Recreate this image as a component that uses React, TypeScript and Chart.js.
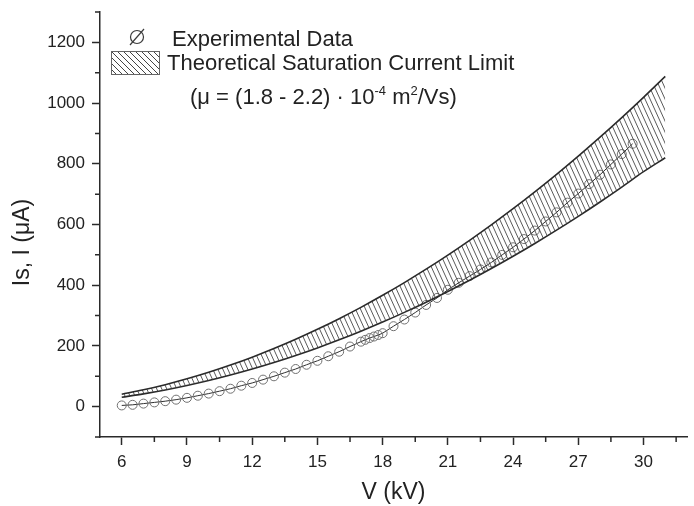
import React, { useEffect, useRef } from "react";
import { Chart, registerables } from "chart.js";

Chart.register(...registerables);

// ---------- data ----------
const expV = [
  6, 6.5, 7, 7.5, 8, 8.5, 9, 9.5, 10, 10.5, 11, 11.5, 12, 12.5, 13, 13.5, 14, 14.5, 15, 15.5, 16, 16.5,
  17, 17.2, 17.4, 17.6, 17.8, 18,
  18.5, 19, 19.5, 20, 20.5, 21, 21.5, 22, 22.5, 23, 23.5, 24, 24.5, 25, 25.5, 26, 26.5, 27, 27.5, 28, 28.5, 29, 29.5,
];
const expI = [
  4, 6, 10, 14, 18, 23, 29, 36, 43, 51, 59, 69, 78, 89, 100, 112, 124, 138, 151, 166, 181, 198,
  214, 220, 226, 231, 236, 242,
  265, 287, 310, 335, 358, 385, 408, 430, 452, 475, 500, 525, 552, 580, 610, 640, 672, 702, 733, 764, 798, 832, 866,
];

const bandV = [6, 7, 8, 9, 10, 11, 12, 13, 14, 15, 16, 17, 18, 19, 20, 21, 22, 23, 24, 25, 26, 27, 28, 29, 30, 31];
const bandUpper = [
  40.8, 55.5, 72.4, 91.7, 113.2, 137.0, 163.0, 191.3, 221.9, 254.7, 289.8, 327.1, 366.8, 408.7, 452.8, 499.2,
  547.9, 598.8, 652.0, 707.5, 765.2, 825.2, 887.5, 952.0, 1018.8, 1087.9,
];
const bandLower = [
  31.0, 42.1, 55.0, 69.7, 86.0, 104.1, 123.8, 145.3, 168.6, 193.5, 220.2, 248.5, 278.6, 310.5, 344.0, 379.3,
  416.2, 454.9, 495.4, 537.5, 581.4, 626.9, 674.2, 723.3, 774.0, 820.0,
];

const xMajorTicks = [6, 9, 12, 15, 18, 21, 24, 27, 30];
const xMinorTicks = [7.5, 10.5, 13.5, 16.5, 19.5, 22.5, 25.5, 28.5, 31.5];
const yMajorTicks = [0, 200, 400, 600, 800, 1000, 1200];
const yMinorTicks = [-100, 100, 300, 500, 700, 900, 1100, 1300];

const legendExp = "Experimental Data";
const legendBand = "Theoretical Saturation Current Limit";
const legendMuParts: { t: string; sup: boolean }[] = [
  { t: "(μ = (1.8 - 2.2) · 10", sup: false },
  { t: "-4", sup: true },
  { t: " m", sup: false },
  { t: "2", sup: true },
  { t: "/Vs)", sup: false },
];
const xTitle = "V (kV)";
const yTitle = "Is, I (μA)";

// ---------- styles ----------
const FONT = "'Liberation Sans', Arial, Helvetica, sans-serif";
const AXIS = "#2a2a2a";
const TEXT = "#222222";

function makeHatch(): CanvasPattern | string {
  const c = document.createElement("canvas");
  const W = 5, H = 11;
  c.width = W; c.height = H;
  const g = c.getContext("2d");
  if (!g) return "rgba(0,0,0,0.3)";
  g.strokeStyle = "#3c3c3c";
  g.lineWidth = 0.85;
  g.beginPath();
  for (let k = -1; k <= 1; k++) {
    g.moveTo(k * W, 0);
    g.lineTo(k * W + W, H);
  }
  g.stroke();
  const p = g.createPattern(c, "repeat");
  return p || "rgba(0,0,0,0.3)";
}

const decorPlugin = {
  id: "decor",
  afterDraw(chart: any) {
    const ctx: CanvasRenderingContext2D = chart.ctx;
    const xs = chart.scales.x;
    const ys = chart.scales.y;
    const a = chart.chartArea;
    ctx.save();
    // minor ticks
    ctx.strokeStyle = AXIS;
    ctx.lineWidth = 1.5;
    ctx.beginPath();
    for (const v of xMinorTicks) {
      const px = xs.getPixelForValue(v);
      ctx.moveTo(px, a.bottom);
      ctx.lineTo(px, a.bottom + 5);
    }
    for (const v of yMinorTicks) {
      const py = ys.getPixelForValue(v);
      ctx.moveTo(a.left, py);
      ctx.lineTo(a.left - 5, py);
    }
    ctx.stroke();

    // y title
    ctx.fillStyle = TEXT;
    ctx.font = `23px ${FONT}`;
    ctx.textAlign = "center";
    ctx.textBaseline = "middle";
    ctx.save();
    ctx.translate(23, (a.top + a.bottom) / 2 + 18);
    ctx.rotate(-Math.PI / 2);
    ctx.fillText(yTitle, 0, 0);
    ctx.restore();

    // legend
    const lx = a.left;
    const ly = a.top;
    // symbol
    ctx.strokeStyle = "#3a3a3a";
    ctx.lineWidth = 1.2;
    ctx.beginPath();
    ctx.arc(lx + 37, ly + 25, 6.5, 0, Math.PI * 2);
    ctx.stroke();
    ctx.beginPath();
    ctx.moveTo(lx + 30, ly + 33);
    ctx.lineTo(lx + 44, ly + 17);
    ctx.stroke();
    // hatched box
    const bx = lx + 11, by = ly + 39, bw = 49, bh = 24;
    ctx.save();
    ctx.beginPath();
    ctx.rect(bx, by, bw, bh);
    ctx.clip();
    ctx.strokeStyle = "#444";
    ctx.lineWidth = 1;
    ctx.beginPath();
    for (let s = -bh; s < bw + bh; s += 6) {
      ctx.moveTo(bx + s, by);
      ctx.lineTo(bx + s + bh, by + bh);
    }
    ctx.stroke();
    ctx.restore();
    ctx.strokeStyle = "#666";
    ctx.lineWidth = 1;
    ctx.strokeRect(bx + 0.5, by + 0.5, bw - 1, bh - 1);

    ctx.fillStyle = TEXT;
    ctx.textAlign = "left";
    ctx.textBaseline = "alphabetic";
    ctx.font = `22px ${FONT}`;
    ctx.fillText(legendExp, lx + 72, ly + 34);
    ctx.fillText(legendBand, lx + 67, ly + 58);
    let tx = lx + 90;
    const base = ly + 92;
    for (const p of legendMuParts) {
      if (p.sup) {
        ctx.font = `13px ${FONT}`;
        ctx.fillText(p.t, tx, base - 9);
      } else {
        ctx.font = `22px ${FONT}`;
        ctx.fillText(p.t, tx, base);
      }
      tx += ctx.measureText(p.t).width;
    }
    ctx.restore();
  },
};

export default function App() {
  const ref = useRef<HTMLCanvasElement | null>(null);
  useEffect(() => {
    if (!ref.current) return;
    const hatch = makeHatch();
    const chart = new Chart(ref.current, {
      type: "line",
      data: {
        datasets: [
          {
            label: "upper",
            data: bandV.map((v, i) => ({ x: v, y: bandUpper[i] })),
            borderColor: "#2a2a2a",
            borderWidth: 1.6,
            pointRadius: 0,
            fill: "+1",
            backgroundColor: hatch as any,
            cubicInterpolationMode: "monotone",
          },
          {
            label: "lower",
            data: bandV.map((v, i) => ({ x: v, y: bandLower[i] })),
            borderColor: "#2a2a2a",
            borderWidth: 1.6,
            pointRadius: 0,
            fill: false,
            cubicInterpolationMode: "monotone",
          },
          {
            label: legendExp,
            data: expV.map((v, i) => ({ x: v, y: expI[i] })),
            borderColor: "#303030",
            borderWidth: 1,
            pointRadius: 4.5,
            pointBorderColor: "#707070",
            pointBackgroundColor: "rgba(0,0,0,0)",
            pointBorderWidth: 1,
            fill: false,
            tension: 0,
          },
        ],
      },
      options: {
        responsive: false,
        animation: false,
        layout: { padding: { top: 12, right: 7, left: 0, bottom: 0 } },
        plugins: { legend: { display: false }, tooltip: { enabled: false } },
        scales: {
          x: {
            type: "linear",
            min: 5,
            max: 32,
            afterBuildTicks: (s: any) => {
              s.ticks = xMajorTicks.map((v) => ({ value: v }));
            },
            afterFit: (s: any) => {
              s.height = 69;
              s.paddingLeft = 0;
              s.paddingRight = 0;
            },
            grid: { drawOnChartArea: false, drawTicks: true, tickLength: 8, tickColor: AXIS, tickWidth: 1.5 },
            border: { display: true, color: AXIS, width: 1.5 },
            ticks: {
              color: TEXT,
              font: { family: FONT, size: 17 },
              padding: 7,
              maxRotation: 0,
              autoSkip: false,
              callback: (v: any) => String(v),
            },
            title: { display: true, text: xTitle, color: TEXT, font: { family: FONT, size: 23 }, padding: { top: 0, bottom: 0 } },
          },
          y: {
            type: "linear",
            min: -100,
            max: 1300,
            afterBuildTicks: (s: any) => {
              s.ticks = yMajorTicks.map((v) => ({ value: v }));
            },
            afterFit: (s: any) => {
              s.width = 100;
              s.paddingTop = 0;
              s.paddingBottom = 0;
            },
            grid: { drawOnChartArea: false, drawTicks: true, tickLength: 8, tickColor: AXIS, tickWidth: 1.5 },
            border: { display: true, color: AXIS, width: 1.5 },
            ticks: {
              color: TEXT,
              font: { family: FONT, size: 17 },
              padding: 7,
              autoSkip: false,
              callback: (v: any) => String(v),
            },
            title: { display: false },
          },
        },
      },
      plugins: [decorPlugin],
    } as any);
    return () => chart.destroy();
  }, []);
  return (
    <div style={{ position: "absolute", left: 0, top: 0, width: 694, height: 506, background: "#fff" }}>
      <canvas ref={ref} width={694} height={506} style={{ display: "block" }} />
    </div>
  );
}
